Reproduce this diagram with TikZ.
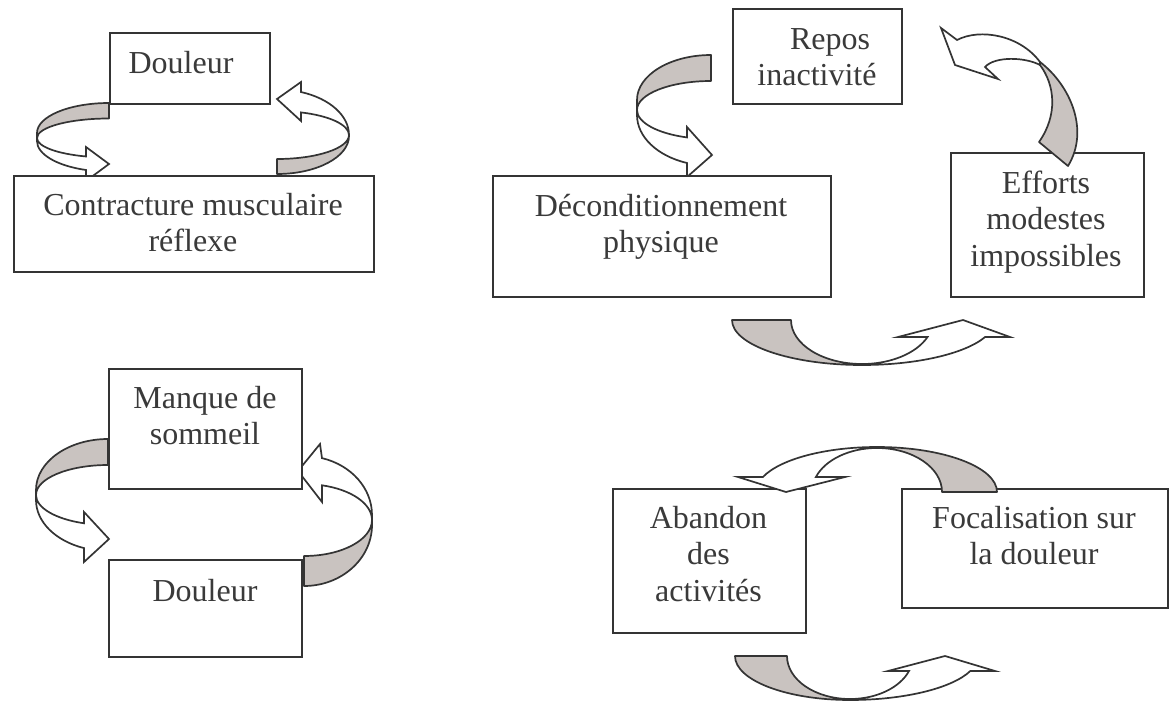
\documentclass[tikz,border=0pt]{standalone}
\usepackage{fontspec}
\setmainfont{Liberation Serif}
\definecolor{inkline}{RGB}{52,52,52}
\definecolor{inktext}{RGB}{58,58,58}
\definecolor{backshade}{RGB}{201,195,192}
\tikzset{
  box/.style={draw=inkline, line width=2pt, fill=white, inner sep=0pt, anchor=north west},
  lbl/.style={inner sep=0pt, anchor=base, text=inktext, font=\fontsize{32}{36.8}\selectfont},
  backface/.style={fill=backshade, draw=inkline, line width=1.7pt, line join=round},
  frontface/.style={fill=white, draw=inkline, line width=1.7pt, line join=miter, miter limit=10},
}
\newcommand{\stack}[1]{\begin{tabular}[t]{@{}c@{}}#1\end{tabular}}
\begin{document}
\begin{tikzpicture}[x=1pt, y=-1pt]
\useasboundingbox (0,0) rectangle (1173,704);

% ---- curved arrows lying behind the boxes ----
% loop 1, left arrow
\draw[backface] (109,103) arc[start angle=270, end angle=180, x radius=72, y radius=30]
  -- (37,138) arc[start angle=180, end angle=270, x radius=72, y radius=19.5] -- cycle;
\draw[frontface] (37,138) arc[start angle=180, end angle=108.6, x radius=72, y radius=19.5]
  -- (86,147) -- (109,164) -- (86,181) -- (86,170)
  arc[start angle=108.6, end angle=180, x radius=72, y radius=30.6] -- cycle;
% loop 1, right arrow
\draw[backface] (277,159) arc[start angle=90, end angle=0, x radius=72, y radius=24]
  -- (349,136) arc[start angle=0, end angle=90, x radius=72, y radius=38] -- cycle;
\draw[frontface] (349,135) arc[start angle=0, end angle=-70.6, x radius=72, y radius=45.6]
  -- (301,82) -- (277,99) -- (301,121) -- (300.9,112.4)
  arc[start angle=-70.6, end angle=0, x radius=72, y radius=24] -- cycle;
% loop 2, left arrow
\draw[backface] (108,439) arc[start angle=270, end angle=180, x radius=72, y radius=51]
  -- (36,495) arc[start angle=180, end angle=270, x radius=72, y radius=30] -- cycle;
\draw[frontface] (36,495) arc[start angle=180, end angle=109.47, x radius=72, y radius=30]
  -- (84,512) -- (109,539) -- (84,562) -- (84,548.1)
  arc[start angle=109.47, end angle=180, x radius=72, y radius=51] -- cycle;
% loop 2, right arrow
\draw[backface] (304,556) arc[start angle=90, end angle=0, x radius=68, y radius=36]
  -- (372,525) arc[start angle=0, end angle=90, x radius=68, y radius=61] -- cycle;
\draw[frontface] (372,515) arc[start angle=0, end angle=-74.65, x radius=68, y radius=59]
  -- (320,444) -- (298,471) -- (322,502) -- (322,485.3)
  arc[start angle=-74.65, end angle=0, x radius=68, y radius=36] -- cycle;
% loop 3, upper left arrow
\draw[backface] (711,55) arc[start angle=270, end angle=180, x radius=74, y radius=45]
  -- (637,110) arc[start angle=180, end angle=270, x radius=74, y radius=29] -- cycle;
\draw[frontface] (637,110) arc[start angle=180, end angle=108.92, x radius=74, y radius=29]
  -- (687,127) -- (712,155) -- (687,177) -- (687,163)
  arc[start angle=108.92, end angle=180, x radius=74, y radius=50.7] -- cycle;
% loop 3, lower arrow
\draw[backface] (732,320) arc[start angle=180, end angle=90, x radius=130, y radius=45]
  -- (862,364) arc[start angle=90, end angle=180, x radius=71, y radius=44] -- cycle;
\draw[frontface] (862,365) arc[start angle=90, end angle=22.2, x radius=133, y radius=45]
  -- (1010,337) -- (963,320) -- (898,337) -- (927.5,337)
  arc[start angle=22.7, end angle=90, x radius=71, y radius=44] -- cycle;
% loop 4, lower arrow
\draw[backface] (735,656) arc[start angle=180, end angle=90, x radius=115, y radius=44]
  -- (850,699) arc[start angle=90, end angle=180, x radius=63, y radius=43] -- cycle;
\draw[frontface] (850,700) arc[start angle=90, end angle=19.9, x radius=128, y radius=44]
  -- (995,671) -- (945,656) -- (888,671) -- (909,671)
  arc[start angle=20.4, end angle=90, x radius=63, y radius=43] -- cycle;

% ---- boxes ----
\node[box, minimum width=160pt, minimum height=71pt]  (douleurA) at (109,32)  {};
\node[box, minimum width=360pt, minimum height=96pt]  (contract) at (13,175)  {};
\node[box, minimum width=193pt, minimum height=120pt] (manque)   at (108,368) {};
\node[box, minimum width=193pt, minimum height=97pt]  (douleurB) at (108,559) {};
\node[box, minimum width=169pt, minimum height=95pt]  (repos)    at (732,8)   {};
\node[box, minimum width=338pt, minimum height=121pt] (decond)   at (492,175) {};
\node[box, minimum width=193pt, minimum height=144pt] (efforts)  at (950,152) {};
\node[box, minimum width=193pt, minimum height=144pt] (abandon)  at (612,488) {};
\node[box, minimum width=266pt, minimum height=119pt] (focal)    at (901,488) {};

% ---- box texts ----
\node[lbl] (douleurAt) at (181,73)  {Douleur};
\node[lbl] (contractt) at (193,215) {\stack{Contracture musculaire\\réflexe}};
\node[lbl] (manquet)   at (205,408) {\stack{Manque de\\sommeil}};
\node[lbl] (douleurBt) at (205,601) {Douleur};
\node[lbl] (repost)    at (817,49)  {\stack{\hspace*{26pt}Repos\\inactivité}};
\node[lbl] (decondt)   at (661,216) {\stack{Déconditionnement\\physique}};
\node[lbl] (effortst)  at (1046,193) {\stack{Efforts\\modestes\\impossibles}};
\node[lbl] (abandont)  at (708.5,528) {\stack{Abandon\\des\\activités}};
\node[lbl] (focalt)    at (1034,528) {\stack{Focalisation sur\\la douleur}};

% ---- curved arrows lying over the boxes ----
% loop 3, right arrow
\draw[backface] (1040,62) .. controls (1070,85) and (1090,130) .. (1068,166)
  -- (1039,142) .. controls (1058,115) and (1055,85) .. (1040,65) -- cycle;
\draw[frontface] (957,40) .. controls (980,28) and (1020,35) .. (1040,62)
  -- (1040,65) .. controls (1025,57) and (995,56) .. (985,67)
  -- (998,79) -- (955,65) -- (941,28) -- cycle;
% loop 4, upper arrow
\draw[backface] (997,492) arc[start angle=0, end angle=-90, x radius=120, y radius=45]
  -- (877,448) arc[start angle=-90, end angle=0, x radius=65, y radius=44] -- cycle;
\draw[frontface] (877,447) arc[start angle=270, end angle=199.5, x radius=121, y radius=45]
  -- (738,477) -- (786,492) -- (845,477) -- (815.9,477)
  arc[start angle=199.9, end angle=270, x radius=65, y radius=44] -- cycle;
\end{tikzpicture}
\end{document}
